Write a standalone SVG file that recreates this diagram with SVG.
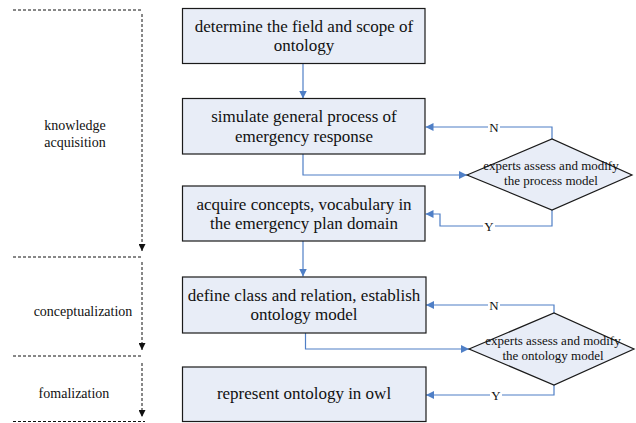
<svg xmlns="http://www.w3.org/2000/svg" width="636" height="423" viewBox="0 0 636 423">
<style>
.box{fill:#e8edf7;stroke:#1a1a1a;stroke-width:1.2}
.dia{fill:#e8edf7;stroke:#1a1a1a;stroke-width:1.2}
text{font-family:'Liberation Serif','Tinos','DejaVu Serif',serif;fill:#111;text-anchor:middle}
.bt{font-size:17px}
.dt{font-size:13px}
.lt{font-size:14px}
.con{fill:none;stroke:#4f7fc6;stroke-width:1.2}
.dash{fill:none;stroke:#111;stroke-width:1;stroke-dasharray:3,2}
</style>
<defs>
<marker id="ah" viewBox="0 0 10 10" refX="10" refY="5" markerWidth="8" markerHeight="8" markerUnits="userSpaceOnUse" orient="auto">
<path d="M0,0 L10,5 L0,10 z" fill="#4f7fc6"/>
</marker>
<marker id="bh" viewBox="0 0 10 10" refX="10" refY="5" markerWidth="7" markerHeight="7" markerUnits="userSpaceOnUse" orient="auto">
<path d="M0,0 L10,5 L0,10 z" fill="#111"/>
</marker>
</defs>
<rect width="636" height="423" fill="#fff"/>
<g id="phases">
<path class="dash" d="M13,10 H143"/>
<path class="dash" d="M142,14 V251" marker-end="url(#bh)"/>
<path class="dash" d="M13,257 H143"/>
<path class="dash" d="M142,262 V350" marker-end="url(#bh)"/>
<path class="dash" d="M13,356 H143"/>
<path class="dash" d="M142,363 V417" marker-end="url(#bh)"/>
<path class="dash" d="M13,421.5 H145"/>
<text class="lt" x="75" y="130">knowledge</text>
<text class="lt" x="75" y="147">acquisition</text>
<text class="lt" x="83" y="316">conceptualization</text>
<text class="lt" x="74" y="398">fomalization</text>
</g>
<g id="connectors">
<path class="con" d="M303,63.5 V98.5" marker-end="url(#ah)"/>
<path class="con" d="M303,154 V175 H467" marker-end="url(#ah)"/>
<path class="con" d="M552,139 V127 H425.5" marker-end="url(#ah)"/>
<path class="con" d="M552,210 V226 H440 V214 H425.5" marker-end="url(#ah)"/>
<path class="con" d="M303,241 V276.5" marker-end="url(#ah)"/>
<path class="con" d="M305.5,333 V349 H469" marker-end="url(#ah)"/>
<path class="con" d="M554,313 V305 H426" marker-end="url(#ah)"/>
<path class="con" d="M554,385 V395 H426" marker-end="url(#ah)"/>
<rect x="488" y="121" width="12" height="12" fill="#fff"/>
<text class="dt" x="494" y="131.5">N</text>
<rect x="483" y="220" width="12" height="12" fill="#fff"/>
<text class="dt" x="489" y="230.5">Y</text>
<rect x="488" y="299" width="12" height="12" fill="#fff"/>
<text class="dt" x="494" y="309.5">N</text>
<rect x="490" y="389" width="12" height="12" fill="#fff"/>
<text class="dt" x="496" y="399.5">Y</text>
</g>
<g id="n1">
<rect class="box" x="182.5" y="8.5" width="242.5" height="55"/>
<text class="bt" x="304" y="31.5">determine the field and scope of</text>
<text class="bt" x="304" y="51">ontology</text>
</g>
<g id="n2">
<rect class="box" x="182.5" y="98.5" width="242.5" height="55.5"/>
<text class="bt" x="304" y="122">simulate general process of</text>
<text class="bt" x="304" y="141.5">emergency response</text>
</g>
<g id="d1">
<polygon class="dia" points="467,175 552,139 632,175 552,210"/>
<text class="dt" x="551" y="170">experts assess and modify</text>
<text class="dt" x="551" y="185">the process model</text>
</g>
<g id="n3">
<rect class="box" x="182.5" y="186" width="242.5" height="55"/>
<text class="bt" x="304" y="209.5">acquire concepts, vocabulary in</text>
<text class="bt" x="304" y="229">the emergency plan domain</text>
</g>
<g id="n4">
<rect class="box" x="182.5" y="277" width="243.5" height="56"/>
<text class="bt" x="304" y="300.5">define class and relation, establish</text>
<text class="bt" x="304" y="320">ontology model</text>
</g>
<g id="d2">
<polygon class="dia" points="469,349 554,313 634,349 554,385"/>
<text class="dt" x="553" y="345">experts assess and modify</text>
<text class="dt" x="553" y="360">the ontology model</text>
</g>
<g id="n5">
<rect class="box" x="182.5" y="367" width="243.5" height="54.5"/>
<text class="bt" x="304" y="399">represent ontology in owl</text>
</g>
</svg>
